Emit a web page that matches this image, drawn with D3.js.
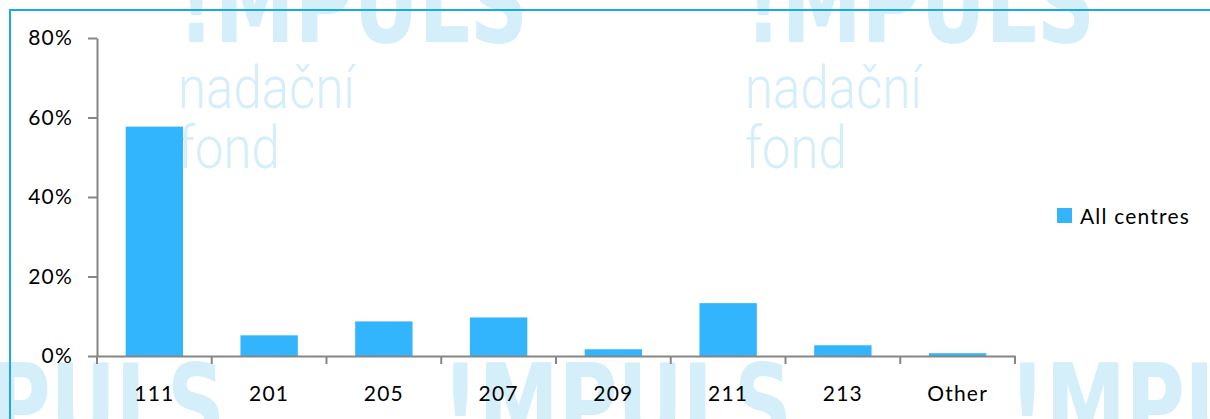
<!DOCTYPE html>
<html>
<head>
<meta charset="utf-8">
<script src="https://cdn.jsdelivr.net/npm/d3@7"></script>
<style>
  html, body { margin: 0; padding: 0; background: #fff; }
  svg { display: block; }
</style>
</head>
<body>
<div id="chart"></div>
<script>
const categories = ["111", "201", "205", "207", "209", "211", "213", "Other"];
const allCentres = [0.577, 0.052, 0.087, 0.097, 0.017, 0.133, 0.027, 0.007];
const yTicks = [0, 0.2, 0.4, 0.6, 0.8];
const seriesName = "All centres";

const width = 1210, height = 419;
const margin = { top: 38, right: 195, bottom: 63, left: 97 };

const svg = d3.select("#chart").append("svg")
  .attr("width", width)
  .attr("height", height);

// watermark logos in the background
const wm = svg.append("g").attr("fill", "#d4eefa");
const logoRows = [
  { y: 42, xs: [178, 745], sub: true },
  { y: 443, xs: [-125, 442, 1009], sub: false }
];
logoRows.forEach(r => {
  r.xs.forEach(x0 => {
    wm.append("text")
      .attr("x", x0).attr("y", r.y)
      .attr("font-family", "DejaVu Sans")
      .attr("font-weight", "bold")
      .attr("font-size", 110)
      .attr("textLength", 350)
      .attr("lengthAdjust", "spacingAndGlyphs")
      .text("!MPULS");
    if (r.sub) {
      wm.append("text")
        .attr("x", x0).attr("y", r.y + 66)
        .attr("font-family", "Roboto, DejaVu Sans")
        .attr("font-weight", 300)
        .attr("font-size", 60)
        .attr("textLength", 177)
        .attr("lengthAdjust", "spacingAndGlyphs")
        .text("nadační");
      wm.append("text")
        .attr("x", x0).attr("y", r.y + 126)
        .attr("font-family", "Roboto, DejaVu Sans")
        .attr("font-weight", 300)
        .attr("font-size", 60)
        .attr("textLength", 102)
        .attr("lengthAdjust", "spacingAndGlyphs")
        .text("fond");
    }
  });
});

// frame
svg.append("rect")
  .attr("x", 10).attr("y", 10)
  .attr("width", width + 20).attr("height", height + 20)
  .attr("fill", "none")
  .attr("stroke", "#17a9e8")
  .attr("stroke-width", 2);

const x = d3.scaleBand()
  .domain(categories)
  .range([margin.left, width - margin.right])
  .paddingInner(0.5)
  .paddingOuter(0.25);

const y = d3.scaleLinear()
  .domain([0, 0.8])
  .range([height - margin.bottom, margin.top]);

const font = "Lato, 'Open Sans', sans-serif";

// bars
svg.append("g")
  .attr("fill", "#33b5fe")
  .selectAll("rect")
  .data(categories)
  .join("rect")
  .attr("x", d => x(d))
  .attr("y", (d, i) => y(allCentres[i]))
  .attr("width", x.bandwidth())
  .attr("height", (d, i) => y(0) - y(allCentres[i]));

// y axis
const yAxis = svg.append("g")
  .attr("transform", `translate(${margin.left},0)`)
  .call(d3.axisLeft(y)
    .tickValues(yTicks)
    .tickFormat(d3.format(".0%"))
    .tickSize(9)
    .tickSizeOuter(0)
    .tickPadding(15));

// x axis: labels centred, ticks on category boundaries
const xAxis = svg.append("g")
  .attr("transform", `translate(0,${y(0)})`)
  .call(d3.axisBottom(x).tickSize(0).tickPadding(30).tickSizeOuter(0));

const step = x.step();
const x0 = x.range()[0];
xAxis.selectAll(".bound")
  .data(d3.range(categories.length + 1))
  .join("line")
  .attr("class", "bound")
  .attr("x1", i => x0 + i * step)
  .attr("x2", i => x0 + i * step)
  .attr("y1", 0)
  .attr("y2", 8);

[yAxis, xAxis].forEach(a => {
  a.selectAll("path, line").attr("stroke", "#868686").attr("stroke-width", 2);
  a.selectAll("text")
    .attr("fill", "#000")
    .attr("font-family", font)
    .attr("font-size", 21)
    .attr("letter-spacing", 1.2);
});

// legend
const legend = svg.append("g").attr("transform", "translate(1057,208)");
legend.append("rect")
  .attr("width", 15).attr("height", 15)
  .attr("fill", "#33b5fe");
legend.append("text")
  .attr("x", 23).attr("y", 16)
  .attr("font-family", font)
  .attr("font-size", 21)
  .attr("letter-spacing", 1.2)
  .text(seriesName);
</script>
</body>
</html>
